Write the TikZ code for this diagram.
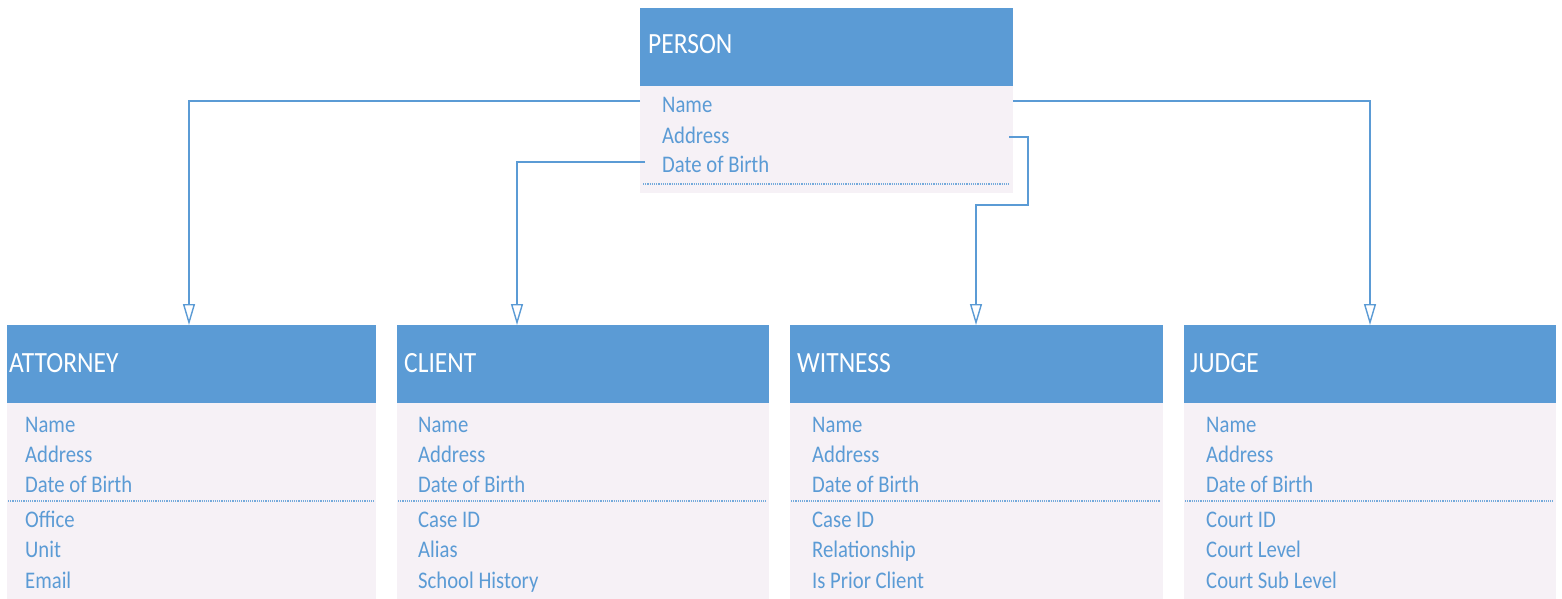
\documentclass[tikz,border=0pt]{standalone}
\usepackage{fontspec}
\setmainfont{Carlito}
\usetikzlibrary{arrows.meta}
\definecolor{hdr}{HTML}{5B9BD5}
\definecolor{bodybg}{HTML}{F6F1F6}
\definecolor{attrc}{HTML}{5B9BD5}

% Calibri-like text, slightly stretched vertically
\newcommand\tall[1]{\scalebox{1}[1.15]{#1}}

\tikzset{
  header/.style={fill=hdr, draw=none, anchor=north west, inner sep=0pt, minimum height=78pt},
  bodybox/.style={fill=bodybg, draw=none, anchor=north west, inner sep=0pt},
  title/.style={anchor=base west, inner sep=0pt, text=white, font=\fontsize{25.5}{29}\selectfont},
  attrtext/.style={anchor=base west, inner sep=0pt, text=attrc, font=\fontsize{20.7}{24}\selectfont},
  sepline/.style={draw=attrc!85, dash pattern=on 1.2pt off 1pt, line width=1.3pt},
  link/.style={draw=hdr, line width=1.4pt, -{Triangle[open, length=21pt, width=12pt, line width=1.4pt]}},
}

% entity box: #1 name, #2 left x, #3 title x, #4 attribute x, #5 title, #6-#8 own attributes, #9 width
\newcommand\entitybox[9]{%
  \node[header, minimum width=#9pt] (#1h) at (#2,325) {};
  \node[bodybox, minimum width=#9pt, minimum height=196pt] (#1b) at (#2,403) {};
  \node[title] (#1t) at (#3,372) {\tall{#5}};
  \node[attrtext] (#1a1) at (#4,432) {\tall{Name}};
  \node[attrtext] (#1a2) at (#4,462) {\tall{Address}};
  \node[attrtext] (#1a3) at (#4,492) {\tall{Date of Birth}};
  \draw[sepline] ([xshift=1pt]#1b.west |- {0,501}) -- ([xshift=-3pt]#1b.east |- {0,501});
  \node[attrtext] (#1a4) at (#4,527) {\tall{#6}};
  \node[attrtext] (#1a5) at (#4,557) {\tall{#7}};
  \node[attrtext] (#1a6) at (#4,588) {\tall{#8}};
}

\begin{document}
\begin{tikzpicture}[x=1pt, y=-1pt]
  \useasboundingbox[fill=white] (0,0) rectangle (1562,599);

  % supertype
  \node[header, minimum width=373pt] (ph) at (640,8) {};
  \node[bodybox, minimum width=373pt, minimum height=107pt] (pb) at (640,86) {};
  \node[title] (pt) at (648,54) {\tall{PERSON}};
  \node[attrtext] (pa1) at (662,113) {\tall{Name}};
  \node[attrtext] (pa2) at (662,143) {\tall{Address}};
  \node[attrtext] (pa3) at (662,172) {\tall{Date of Birth}};
  \draw[sepline] ([xshift=3pt]pb.west |- {0,184}) -- ([xshift=-3pt]pb.east |- {0,184});

  % subtypes
  \entitybox{at}{7}{9}{25}{ATTORNEY}{Office}{Unit}{Email}{369}
  \entitybox{cl}{397}{404}{418}{CLIENT}{Case ID}{Alias}{School History}{372}
  \entitybox{wi}{790}{797}{812}{WITNESS}{Case ID}{Relationship}{Is Prior Client}{373}
  \entitybox{ju}{1184}{1190}{1206}{JUDGE}{Court ID}{Court Level}{Court Sub Level}{372}

  % generalisation links
  \draw[link] (pb.west |- {0,101}) -| (ath.north -| {189,0});
  \draw[link] ([xshift=5pt]pb.west |- {0,162}) -| (clh.north -| {517,0});
  \draw[link] ([xshift=-4pt]pb.east |- {0,137}) -| ({1028,205}) -| (wih.north -| {976,0});
  \draw[link] (pb.east |- {0,101}) -| (juh.north -| {1370,0});
\end{tikzpicture}
\end{document}
